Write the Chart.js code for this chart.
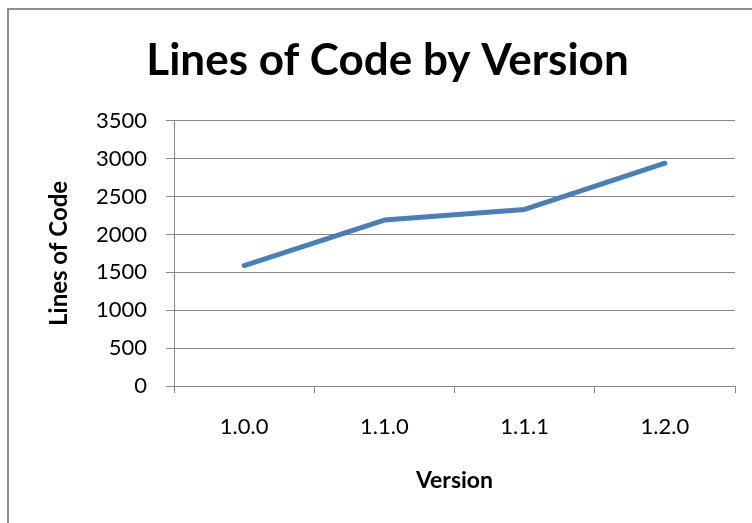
<!DOCTYPE html>
<html>
<head>
<meta charset="utf-8">
<script src="https://cdn.jsdelivr.net/npm/chart.js@4"></script>
<style>
  body { margin: 0; background: #fff; }
  #wrap { position: relative; width: 752px; height: 523px; }
  #frame {
    position: absolute; left: 7px; top: 8px; right: 0; bottom: 0;
    border-left: 2px solid #8e8e8e; border-top: 2px solid #8e8e8e;
    pointer-events: none;
  }
</style>
</head>
<body>
<div id="wrap">
  <canvas id="myChart"></canvas>
  <div id="frame"></div>
</div>
<script>
const versions = ['1.0.0', '1.1.0', '1.1.1', '1.2.0'];
const linesOfCode = [1590, 2190, 2330, 2940];
const yTicks = [0, 500, 1000, 1500, 2000, 2500, 3000, 3500];

const font = 'Lato';
const gridColor = '#878787';

const ctx = document.getElementById('myChart');
new Chart(ctx, {
    type: 'line',
    data: {
        labels: versions,
        datasets: [{
            label: 'Lines of Code',
            data: linesOfCode,
            borderColor: '#4a7ebb',
            borderWidth: 5,
            borderCapStyle: 'round',
            borderJoinStyle: 'round',
            pointRadius: 0,
            tension: 0
        }]
    },
    options: {
        responsive: true,
        maintainAspectRatio: false,
        animation: false,
        layout: {
            padding: { left: 40, right: 17, top: 0, bottom: 0 }
        },
        plugins: {
            legend: { display: false },
            tooltip: { enabled: false },
            title: {
                display: true,
                text: 'Lines of Code by Version',
                color: '#000',
                font: { family: font, size: 44, weight: 'bold' },
                padding: { top: 34, bottom: 34 }
            }
        },
        scales: {
            x: {
                offset: true,
                grid: {
                    offset: true,
                    drawOnChartArea: false,
                    drawTicks: true,
                    tickLength: 7,
                    color: gridColor
                },
                border: { color: gridColor, width: 1 },
                ticks: {
                    color: '#000',
                    padding: 21,
                    font: { family: font, size: 22 }
                },
                title: {
                    display: true,
                    text: 'Version',
                    color: '#000',
                    font: { family: font, size: 23, weight: 'bold' },
                    padding: { top: 0, bottom: 29 }
                },
                afterFit: function (scale) { scale.height = 137; }
            },
            y: {
                min: 0,
                max: 3500,
                afterBuildTicks: function (scale) {
                    scale.ticks = yTicks.map(v => ({ value: v }));
                },
                grid: {
                    color: gridColor,
                    tickLength: 8
                },
                border: { color: gridColor, width: 1 },
                ticks: {
                    color: '#000',
                    padding: 19,
                    font: { family: font, size: 22 },
                    callback: function (value) { return String(value); }
                },
                title: {
                    display: true,
                    text: 'Lines of Code',
                    color: '#000',
                    font: { family: font, size: 24, weight: 'bold' },
                    padding: { top: 5, bottom: 0 }
                },
                afterFit: function (scale) { scale.width = 134; }
            }
        }
    }
});
</script>
</body>
</html>
